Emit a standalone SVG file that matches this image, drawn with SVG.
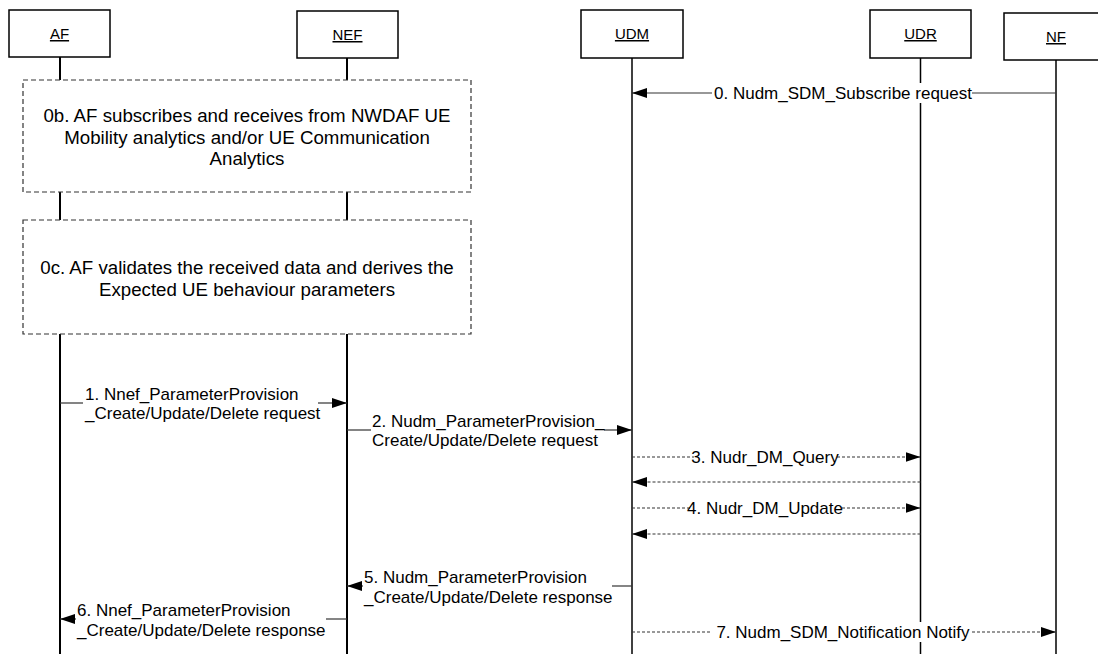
<svg xmlns="http://www.w3.org/2000/svg" width="1098" height="654" viewBox="0 0 1098 654">
<style>
.box{fill:#fff;stroke:#000;stroke-width:1.5}
.life{stroke:#000;stroke-width:2;fill:none}
.life2{stroke:#000;stroke-width:1.5;fill:none}
.nlabel{font-family:"Liberation Sans",Arial,sans-serif;font-size:15px;text-anchor:middle;text-decoration:underline;fill:#000}
.note{fill:#fff;stroke:#333;stroke-width:1.2;stroke-dasharray:5,3}
.ntext{font-family:"Liberation Sans",Arial,sans-serif;font-size:18.7px;text-anchor:middle;fill:#000}
.msg{stroke:#333;stroke-width:1.2;fill:none}
.dash{stroke:#333;stroke-width:1.2;fill:none;stroke-dasharray:3,2}
.mtext{font-family:"Liberation Sans",Arial,sans-serif;font-size:17px;fill:#000}
.mid{text-anchor:middle}
.bg{fill:#fff;stroke:none}
</style>
<defs>
<marker id="ah" markerWidth="15" markerHeight="10" refX="15" refY="5" orient="auto" markerUnits="userSpaceOnUse">
<path d="M0,0 L15,5 L0,10 Z" fill="#000"/>
</marker>
</defs>
<rect width="1098" height="654" fill="#fff"/>
<g id="AF">
<rect class="box" x="9" y="10" width="101" height="47"/>
<text class="nlabel" x="59.5" y="39">AF</text>
<path class="life" d="M60,57 V80 M60,192 V220 M60,334 V654"/>
</g>
<g id="NEF">
<rect class="box" x="297" y="11" width="101" height="47"/>
<text class="nlabel" x="347.5" y="40">NEF</text>
<path class="life" d="M347,58 V80 M347,192 V220 M347,334 V654"/>
</g>
<g id="UDM">
<rect class="box" x="581" y="10" width="102" height="48"/>
<text class="nlabel" x="632" y="39">UDM</text>
<path class="life2" d="M632,58 V654"/>
</g>
<g id="UDR">
<rect class="box" x="870" y="10" width="101" height="48"/>
<text class="nlabel" x="920.5" y="39">UDR</text>
<path class="life2" d="M920.5,58 V654"/>
</g>
<g id="NF">
<rect class="box" x="1004" y="13" width="104" height="47"/>
<text class="nlabel" x="1056" y="42">NF</text>
<path class="life2" d="M1056,60 V654"/>
</g>
<g id="note0b">
<rect class="note" x="23" y="80" width="448" height="112"/>
<text class="ntext" x="247" y="121.5">0b. AF subscribes and receives from NWDAF UE</text>
<text class="ntext" x="247" y="143.5">Mobility analytics and/or UE Communication</text>
<text class="ntext" x="247" y="165">Analytics</text>
</g>
<g id="note0c">
<rect class="note" x="23" y="220" width="448" height="114"/>
<text class="ntext" x="247" y="273.5">0c. AF validates the received data and derives the</text>
<text class="ntext" x="247" y="295.5">Expected UE behaviour parameters</text>
</g>
<g id="connectors">
<g id="m0">
<path class="msg" d="M1056,93 H632" marker-end="url(#ah)"/>
<rect class="bg" x="712" y="83" width="260" height="20"/>
<text class="mtext mid" x="843" y="99">0. Nudm_SDM_Subscribe request</text>
</g>
<g id="m1">
<path class="msg" d="M60,403 H83"/>
<path class="msg" d="M318,403 H347" marker-end="url(#ah)"/>
<text class="mtext" x="85" y="400">1. Nnef_ParameterProvision</text>
<text class="mtext" x="85" y="419">_Create/Update/Delete request</text>
</g>
<g id="m2">
<path class="msg" d="M347,430 H371"/>
<path class="msg" d="M604,430 H632" marker-end="url(#ah)"/>
<text class="mtext" x="372" y="426.5">2. Nudm_ParameterProvision_</text>
<text class="mtext" x="372" y="446">Create/Update/Delete request</text>
</g>
<g id="m3">
<path class="dash" d="M632,457 H920.5" marker-end="url(#ah)"/>
<rect class="bg" x="694" y="448" width="142" height="18"/>
<text class="mtext mid" x="765" y="463">3. Nudr_DM_Query</text>
</g>
<g id="m3r">
<path class="dash" d="M920.5,482 H632" marker-end="url(#ah)"/>
</g>
<g id="m4">
<path class="dash" d="M632,508 H920.5" marker-end="url(#ah)"/>
<rect class="bg" x="690" y="499" width="150" height="18"/>
<text class="mtext mid" x="765" y="514">4. Nudr_DM_Update</text>
</g>
<g id="m4r">
<path class="dash" d="M920.5,534 H632" marker-end="url(#ah)"/>
</g>
<g id="m5">
<path class="msg" d="M632,586 H612"/>
<path class="msg" d="M363,586 H347" marker-end="url(#ah)"/>
<text class="mtext" x="364" y="583">5. Nudm_ParameterProvision</text>
<text class="mtext" x="364" y="603">_Create/Update/Delete response</text>
</g>
<g id="m6">
<path class="msg" d="M347,619 H326"/>
<path class="msg" d="M76,619 H60" marker-end="url(#ah)"/>
<text class="mtext" x="77" y="616">6. Nnef_ParameterProvision</text>
<text class="mtext" x="77" y="636">_Create/Update/Delete response</text>
</g>
<g id="m7">
<path class="dash" d="M632,632 H1056" marker-end="url(#ah)"/>
<rect class="bg" x="712" y="622" width="260" height="20"/>
<text class="mtext mid" x="843" y="638">7. Nudm_SDM_Notification Notify</text>
</g>
</g>
</svg>
